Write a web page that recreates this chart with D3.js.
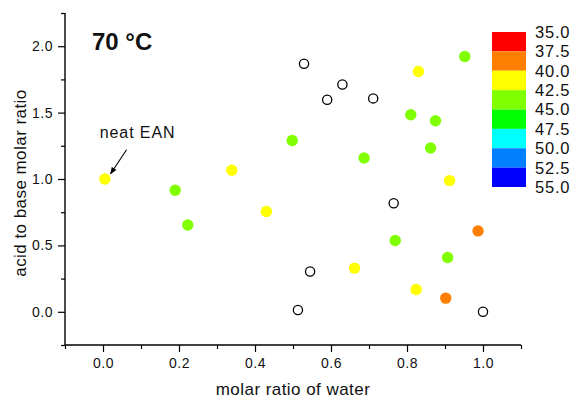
<!DOCTYPE html>
<html><head><meta charset="utf-8">
<script src="https://cdn.jsdelivr.net/npm/d3@7"></script>
<style>
html,body{margin:0;padding:0;background:#fff;}
svg text{font-family:"Liberation Sans",Arial,sans-serif;fill:#111;}
</style></head>
<body>
<svg id="chart" width="573" height="399"></svg>
<script>
// Data: molar ratio of water (x), acid-to-base molar ratio (y), temperature value (null = open circle)
const waterRatio = [0.005,0.19,0.223,0.339,0.43,0.498,0.529,0.63,0.59,0.711,0.83,0.952,0.81,0.875,0.862,0.687,0.912,0.765,0.987,0.769,0.907,0.662,0.545,0.824,0.902,0.513,1.0];
const acidBaseRatio = [1.0,0.915,0.654,1.066,0.755,1.29,1.868,1.712,1.597,1.607,1.81,1.923,1.484,1.439,1.233,1.158,0.988,0.817,0.609,0.537,0.409,0.329,0.304,0.168,0.103,0.013,0.0];
const tempValue = [41,43.5,43.5,41,41,43.5,null,null,null,null,41,43.5,43.5,43.5,43.5,43.5,41,null,38.5,43.5,43.5,41,null,41,38.5,null,null];

const legendLevels = [35.0,37.5,40.0,42.5,45.0,47.5,50.0,52.5,55.0];
const legendColors = ["#ff0000","#ff8000","#ffff00","#80ff00","#00ff00","#00ffff","#0080ff","#0000ff"];
const xTicks = [0.0,0.2,0.4,0.6,0.8,1.0];
const yTicks = [0.0,0.5,1.0,1.5,2.0];
const xMinor = [-0.1,0.1,0.3,0.5,0.7,0.9,1.1];
const yMinor = [-0.25,0.25,0.75,1.25,1.75,2.25];

const svg = d3.select("#chart");
const x = d3.scaleLinear().domain([-0.1,1.1]).range([65,521]);
const y = d3.scaleLinear().domain([-0.25,2.25]).range([345,13]);
const color = d3.scaleThreshold().domain(legendLevels.slice(1,-1)).range(legendColors);

// axes
const gx = svg.append("g").attr("transform","translate(0,345)")
  .call(d3.axisBottom(x).tickValues(xMinor).tickSize(4).tickFormat(""));
const gx2 = svg.append("g").attr("transform","translate(0,345)")
  .call(d3.axisBottom(x).tickValues(xTicks).tickSize(7).tickPadding(6).tickFormat(d3.format(".1f")));
const gy = svg.append("g").attr("transform","translate(65,0)")
  .call(d3.axisLeft(y).tickValues(yMinor).tickSize(4).tickFormat(""));
const gy2 = svg.append("g").attr("transform","translate(65,0)")
  .call(d3.axisLeft(y).tickValues(yTicks).tickSize(7).tickPadding(5).tickFormat(d3.format(".1f")));
svg.selectAll(".domain").attr("stroke","#000").attr("stroke-width",1.4);
svg.selectAll(".tick line").attr("stroke","#000").attr("stroke-width",1.2);
svg.selectAll(".tick text").attr("font-size",14).attr("letter-spacing",0.5)
  .attr("font-family","Liberation Sans, Arial, sans-serif").attr("fill","#111");
gx.select(".domain").remove(); gy.select(".domain").remove();
gx2.select(".domain").attr("d","M65,0H521");
gy2.select(".domain").attr("d","M0,13V345");

// titles
svg.append("text").attr("x",293).attr("y",395).attr("text-anchor","middle").attr("font-size",17).attr("letter-spacing",0.45).text("molar ratio of water");
svg.append("text").attr("transform","translate(26,183) rotate(-90)").attr("text-anchor","middle").attr("font-size",17).attr("letter-spacing",0.45).text("acid to base molar ratio");

// points
const pts = waterRatio.map((w,i)=>({x:w,y:acidBaseRatio[i],t:tempValue[i]}));
svg.append("g").selectAll("circle").data(pts).join("circle")
  .attr("cx",d=>x(d.x)).attr("cy",d=>y(d.y))
  .attr("r",d=>d.t==null?4.6:5.7)
  .attr("fill",d=>d.t==null?"none":color(d.t))
  .attr("stroke",d=>d.t==null?"#000":"none")
  .attr("stroke-width",1.3);

// annotation
svg.append("defs").append("marker").attr("id","ah").attr("viewBox","0 0 10 10").attr("refX",9).attr("refY",5)
  .attr("markerWidth",7).attr("markerHeight",7).attr("orient","auto").attr("markerUnits","userSpaceOnUse")
  .append("path").attr("d","M0,1L10,5L0,9Z").attr("fill","#000");
svg.append("line").attr("x1",x(0.062)).attr("y1",y(1.22)).attr("x2",x(0.02)).attr("y2",y(1.04))
  .attr("stroke","#000").attr("stroke-width",1.1).attr("marker-end","url(#ah)");
svg.append("text").attr("x",x(0.091)).attr("y",y(1.311)).attr("text-anchor","middle").attr("font-size",16).attr("letter-spacing",0.9).text("neat EAN");
svg.append("text").attr("x",92).attr("y",50).attr("font-family","Open Sans, sans-serif").attr("font-weight","bold").attr("font-size",24).text("70 °C");

// legend
const ly = d3.scaleLinear().domain([35,55]).range([32,187]);
const lg = svg.append("g");
lg.selectAll("rect").data(legendColors).join("rect")
  .attr("x",492).attr("width",34)
  .attr("y",(c,i)=>ly(legendLevels[i])).attr("height",(c,i)=>ly(legendLevels[i+1])-ly(legendLevels[i]))
  .attr("fill",c=>c);
lg.selectAll("text").data(legendLevels).join("text")
  .attr("x",535).attr("y",d=>ly(d)).attr("dy","0.36em").attr("font-size",16.5).attr("letter-spacing",0.8)
  .text(d=>d3.format(".1f")(d));
</script>
</body></html>
